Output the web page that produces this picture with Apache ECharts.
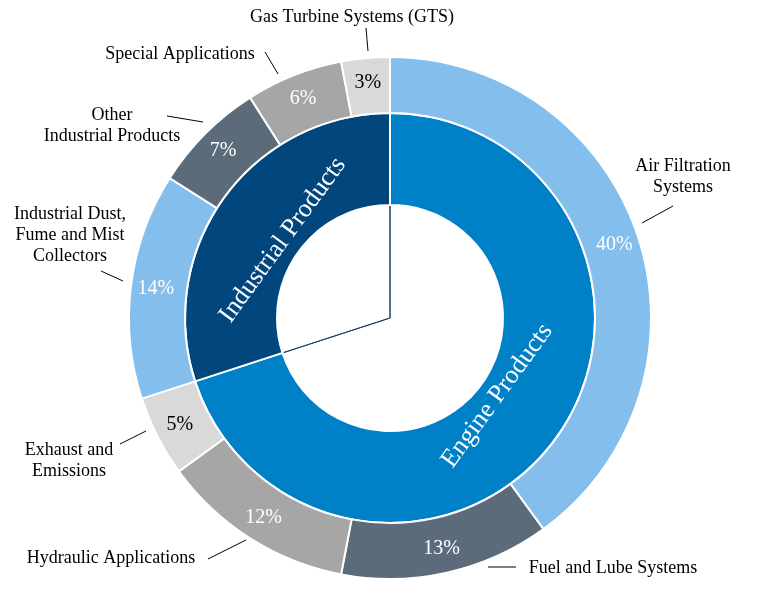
<!DOCTYPE html>
<html>
<head>
<meta charset="utf-8">
<script src="https://cdn.jsdelivr.net/npm/echarts@6/dist/echarts.min.js"></script>
<style>html,body{margin:0;padding:0;background:#fff;}#c{width:762px;height:603px;}</style>
</head>
<body>
<div id="c"></div>
<script>
// ---- data ----
var innerNames = ['Engine Products', 'Industrial Products'];
var innerValues = [70, 30];
var outerNames = ['Air Filtration\nSystems', 'Fuel and Lube Systems', 'Hydraulic Applications', 'Exhaust and\nEmissions',
  'Industrial Dust,\nFume and Mist\nCollectors', 'Other\nIndustrial Products', 'Special Applications', 'Gas Turbine Systems (GTS)'];
var outerValues = [40, 13, 12, 5, 14, 7, 6, 3];

// ---- styles / label placement ----
var innerColors = ['#0080C6', '#02467E'];
var outerColors = ['#83BEEC', '#5B6B7A', '#A6A6A6', '#D9D9D9', '#83BEEC', '#5B6B7A', '#A6A6A6', '#D9D9D9'];
var pctColors = ['#fff', '#fff', '#fff', '#000', '#fff', '#fff', '#fff', '#000'];
var namePos = [[683, 177], [613, 568], [111, 558], [69, 461], [70, 235], [112, 126], [180, 54], [352, 17]];
var leaderLines = [
  [[673, 206], [642, 223]], [[516, 567], [488, 567]], [[208, 559], [246, 540]], [[120, 444], [146, 431]],
  [[101, 271], [123, 281]], [[167, 116], [203, 122]], [[265, 52], [278, 74]], [[366, 28], [368, 51]]
];
var FONT = "'Times New Roman', 'Liberation Serif', serif";
var CENTER = [390, 318];

var chart = echarts.init(document.getElementById('c'), null, {renderer: 'canvas'});

function innerData(colorFn) {
  return innerNames.map(function (n, i) { return {name: n, value: innerValues[i], itemStyle: colorFn(i)}; });
}
function outerData(colorFn, labelFn) {
  return outerNames.map(function (n, i) {
    var d = {name: n, value: outerValues[i], itemStyle: colorFn(i)};
    if (labelFn) d.label = labelFn(i);
    return d;
  });
}
var clear = 'rgba(0,0,0,0)';

chart.setOption({
  animation: false,
  backgroundColor: '#fff',
  series: [
    { // thin lines inside the hole
      type: 'pie', center: CENTER, radius: [0, 115], silent: true, z: 1,
      startAngle: 90, clockwise: true,
      label: {show: false}, labelLine: {show: false}, emphasis: {disabled: true},
      data: innerData(function () { return {color: clear, borderColor: '#1F3F66', borderWidth: 1}; })
    },
    { // inner ring
      type: 'pie', center: CENTER, radius: [113, 205], silent: true, z: 2,
      startAngle: 90, clockwise: true,
      label: {show: false}, labelLine: {show: false}, emphasis: {disabled: true},
      data: innerData(function (i) { return {color: innerColors[i], borderColor: '#fff', borderWidth: 2}; })
    },
    { // inner ring labels
      type: 'pie', center: CENTER, radius: [54, 205], silent: true, z: 3,
      startAngle: 90, clockwise: true,
      label: {show: true, position: 'inside', rotate: 'tangential', color: '#fff', fontFamily: FONT, fontSize: 26,
        formatter: '{b}'},
      labelLine: {show: false}, emphasis: {disabled: true},
      data: innerData(function () { return {color: clear}; })
    },
    { // outer ring with percentages
      type: 'pie', center: CENTER, radius: [205, 261], silent: true, z: 2,
      startAngle: 90, clockwise: true,
      label: {show: true, position: 'inside', fontFamily: FONT, fontSize: 20, formatter: '{c}%'},
      labelLine: {show: false}, emphasis: {disabled: true},
      data: outerData(function (i) { return {color: outerColors[i], borderColor: '#fff', borderWidth: 2}; },
        function (i) { return {color: pctColors[i]}; })
    },
    { // outer names
      type: 'pie', center: CENTER, radius: [205, 261], silent: true, z: 3,
      startAngle: 90, clockwise: true, avoidLabelOverlap: false,
      label: {show: true, position: 'outside', fontFamily: FONT, fontSize: 18, lineHeight: 21, color: '#000',
        align: 'center', formatter: '{b}'},
      labelLine: {show: true, length: 12, length2: 0, lineStyle: {color: '#000', width: 1}},
      labelLayout: function (p) {
        var i = p.dataIndex, pos = namePos[i], ln = leaderLines[i];
        var mid = [(ln[0][0] + ln[1][0]) / 2, (ln[0][1] + ln[1][1]) / 2];
        return {x: pos[0], y: pos[1], align: 'center', verticalAlign: 'middle',
          labelLinePoints: [ln[1], mid, ln[0]]};
      },
      emphasis: {disabled: true},
      data: outerData(function () { return {color: clear}; })
    }
  ]
});
</script>
</body>
</html>
